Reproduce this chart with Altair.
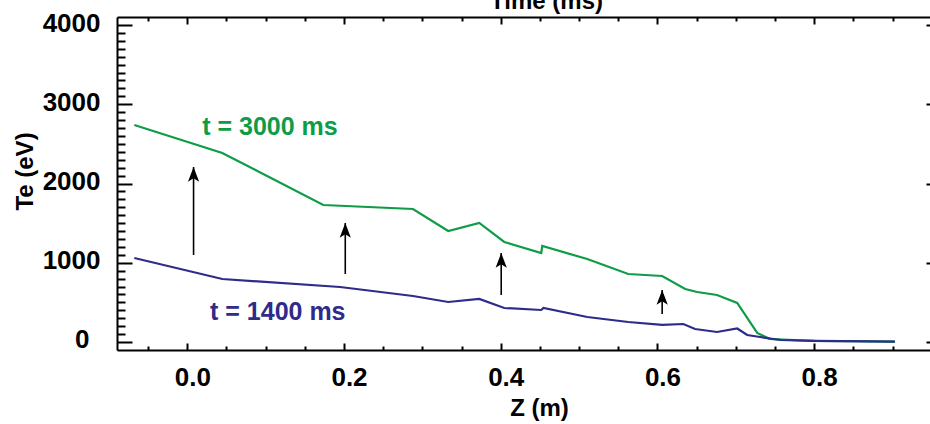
import altair as alt
import pandas as pd

# ---- data ----
z_3000 = [-0.0676, 0.0447, 0.1735, 0.288, 0.333, 0.3726, 0.4045, 0.4517, 0.4530,
          0.5104, 0.5627, 0.606, 0.6354, 0.6507, 0.676, 0.7018, 0.7273, 0.743,
          0.760, 0.800, 0.850, 0.903]
te_3000 = [2738, 2385, 1729, 1678, 1401, 1502, 1262, 1123, 1211,
           1047, 858, 833, 669, 631, 593, 492, 114, 40,
           30, 15, 10, 5]

z_1400 = [-0.0676, 0.0447, 0.195, 0.288, 0.333, 0.3726, 0.4045, 0.4517, 0.4545,
          0.5104, 0.5627, 0.606, 0.633, 0.648, 0.676, 0.7018, 0.7145, 0.731,
          0.757, 0.800, 0.903]
te_1400 = [1060, 795, 694, 580, 505, 543, 429, 404, 429,
           315, 252, 215, 227, 164, 126, 170, 88, 63,
           25, 13, 5]

arrow_z = [0.008, 0.2016, 0.4006, 0.606]
arrow_base = [1098, 858, 593, 353]
arrow_tip = [2208, 1502, 1123, 656]

label_text = ["t = 3000 ms", "t = 1400 ms"]
label_z = [0.019, 0.029]
label_te = [2612, 278]
label_series = ["3000", "1400"]

x_major = [0.0, 0.2, 0.4, 0.6, 0.8]
x_minor = [-0.05, 0.05, 0.1, 0.15, 0.25, 0.3, 0.35, 0.45, 0.5, 0.55,
           0.65, 0.7, 0.75, 0.85, 0.9]
y_major = [0, 1000, 2000, 3000, 4000]
y_major_labeled = [1000, 2000, 3000, 4000]
y_zero = [0]
y_minor = [v for v in range(100, 4100, 100) if v % 1000 != 0]

X_DOMAIN = [-0.0897, 0.9478]
Y_DOMAIN = [-101, 4101]

GREEN = "#0e9c47"
BLUE = "#2e2b8a"
LABEL_FONT = "Liberation Sans, Arial, Helvetica"
TITLE_FONT = "Liberation Sans, Arial, Helvetica"

green_df = pd.DataFrame({"z": z_3000, "te": te_3000})
blue_df = pd.DataFrame({"z": z_1400, "te": te_1400})
arrow_df = pd.DataFrame({"z": arrow_z, "base": arrow_base, "tip": arrow_tip})
label_df = pd.DataFrame({"z": label_z, "te": label_te, "text": label_text,
                         "series": label_series})

xscale = alt.Scale(domain=X_DOMAIN, nice=False, zero=False)
yscale = alt.Scale(domain=Y_DOMAIN, nice=False, zero=False)


def tick_axis(orient, values, size, width=2):
    return alt.Axis(orient=orient, values=values, offset=-size, tickSize=size,
                    tickWidth=width, tickColor="black", domain=False,
                    labels=False, title=None, grid=False)


# x axes
ax_bottom_labels = alt.Axis(
    orient="bottom", values=x_major, format=".1f", offset=0, domain=True,
    domainColor="black", domainWidth=2, ticks=False, tickSize=0, labels=True,
    labelFont=LABEL_FONT, labelFontSize=26, labelFontWeight="bold",
    labelColor="black", labelBaseline="alphabetic", labelPadding=35,
    labelOffset=5, labelFlush=False, labelOverlap=False, grid=False,
    title="Z (m)", titleFont=TITLE_FONT, titleFontSize=24,
    titleFontWeight="bold", titleColor="black", titleX=422, titleY=65,
    titleAlign="center", titleBaseline="alphabetic")
ax_top_title = alt.Axis(
    orient="top", values=x_major, offset=0, domain=True, domainColor="black",
    domainWidth=2, ticks=False, tickSize=0, labels=False, grid=False,
    title="Time (ms)", titleFont=TITLE_FONT, titleFontSize=24,
    titleFontWeight="bold", titleColor="black", titleX=429, titleY=-9,
    titleAlign="center", titleBaseline="alphabetic")
ax_bottom_major = tick_axis("bottom", x_major, 7)
ax_bottom_minor = tick_axis("bottom", x_minor, 4)
ax_top_major = tick_axis("top", x_major, 7)
ax_top_minor = tick_axis("top", x_minor, 4)

# y axes
ax_left_labels = alt.Axis(
    orient="left", values=y_major_labeled, format="d", offset=0, domain=True,
    domainColor="black", domainWidth=2, ticks=False, tickSize=0, labels=True,
    labelFont=LABEL_FONT, labelFontSize=26, labelFontWeight="bold",
    labelColor="black", labelAlign="right", labelBaseline="middle",
    labelPadding=17, labelOffset=-2, labelFlush=False, labelOverlap=False,
    grid=False, title="Te (eV)", titleFont=TITLE_FONT, titleFontSize=24,
    titleFontWeight="bold", titleColor="black", titleAngle=270, titleX=-85,
    titleY=154, titleAlign="center", titleBaseline="alphabetic")
ax_left_zero = alt.Axis(
    orient="left", values=y_zero, format="d", offset=0, domain=False,
    ticks=False, tickSize=0, labels=True, labelFont=LABEL_FONT,
    labelFontSize=26, labelFontWeight="bold", labelColor="black",
    labelAlign="right", labelBaseline="middle", labelPadding=28,
    labelOffset=-2, labelFlush=False, grid=False, title=None)
ax_left_major = tick_axis("left", y_major, 15)
ax_left_minor = tick_axis("left", y_minor, 8)
ax_right_major = tick_axis("right", y_major, 4)

green = alt.Chart(green_df).mark_line(color=GREEN, strokeWidth=2.2).encode(
    x=alt.X("z:Q", scale=xscale, axis=ax_bottom_labels),
    y=alt.Y("te:Q", scale=yscale, axis=ax_left_labels),
)
blue = alt.Chart(blue_df).mark_line(color=BLUE, strokeWidth=2.2).encode(
    x=alt.X("z:Q", scale=xscale, axis=ax_bottom_major),
    y=alt.Y("te:Q", scale=yscale, axis=ax_left_zero),
)
arrows = alt.Chart(arrow_df).mark_rule(color="black", strokeWidth=1.6).encode(
    x=alt.X("z:Q", scale=xscale, axis=ax_bottom_minor),
    y=alt.Y("base:Q", scale=yscale, axis=ax_left_major),
    y2="tip:Q",
)
heads = alt.Chart(arrow_df).mark_point(
    shape="M0,0L0.8,2.1L0,1.6L-0.8,2.1Z", size=196, filled=True,
    color="black", opacity=1, strokeWidth=0).encode(
    x=alt.X("z:Q", scale=xscale, axis=ax_top_title),
    y=alt.Y("tip:Q", scale=yscale, axis=ax_left_minor),
)
texts = alt.Chart(label_df).mark_text(
    font=TITLE_FONT, fontSize=25, fontWeight="bold", align="left",
    baseline="alphabetic").encode(
    x=alt.X("z:Q", scale=xscale, axis=ax_top_major),
    y=alt.Y("te:Q", scale=yscale, axis=ax_right_major),
    text="text:N",
    color=alt.Color("series:N", scale=alt.Scale(domain=["3000", "1400"],
                                                range=[GREEN, BLUE]),
                    legend=None),
)
spacer = alt.Chart(label_df).mark_text(opacity=0).encode(
    x=alt.X("z:Q", scale=xscale, axis=ax_top_minor),
    y=alt.Y("te:Q", scale=yscale, axis=None),
    text="text:N",
)

chart = alt.layer(green, blue, arrows, heads, texts, spacer).resolve_scale(
    x="shared", y="shared"
).resolve_axis(
    x="independent", y="independent"
).properties(
    width=813, height=333,
    autosize=alt.AutoSizeParams(type="none"),
    padding={"left": 117, "top": 17, "right": 0, "bottom": 74},
    background="white",
).configure_view(stroke=None)

chart.save("out.html", embed_options={"renderer": "svg", "actions": False})
